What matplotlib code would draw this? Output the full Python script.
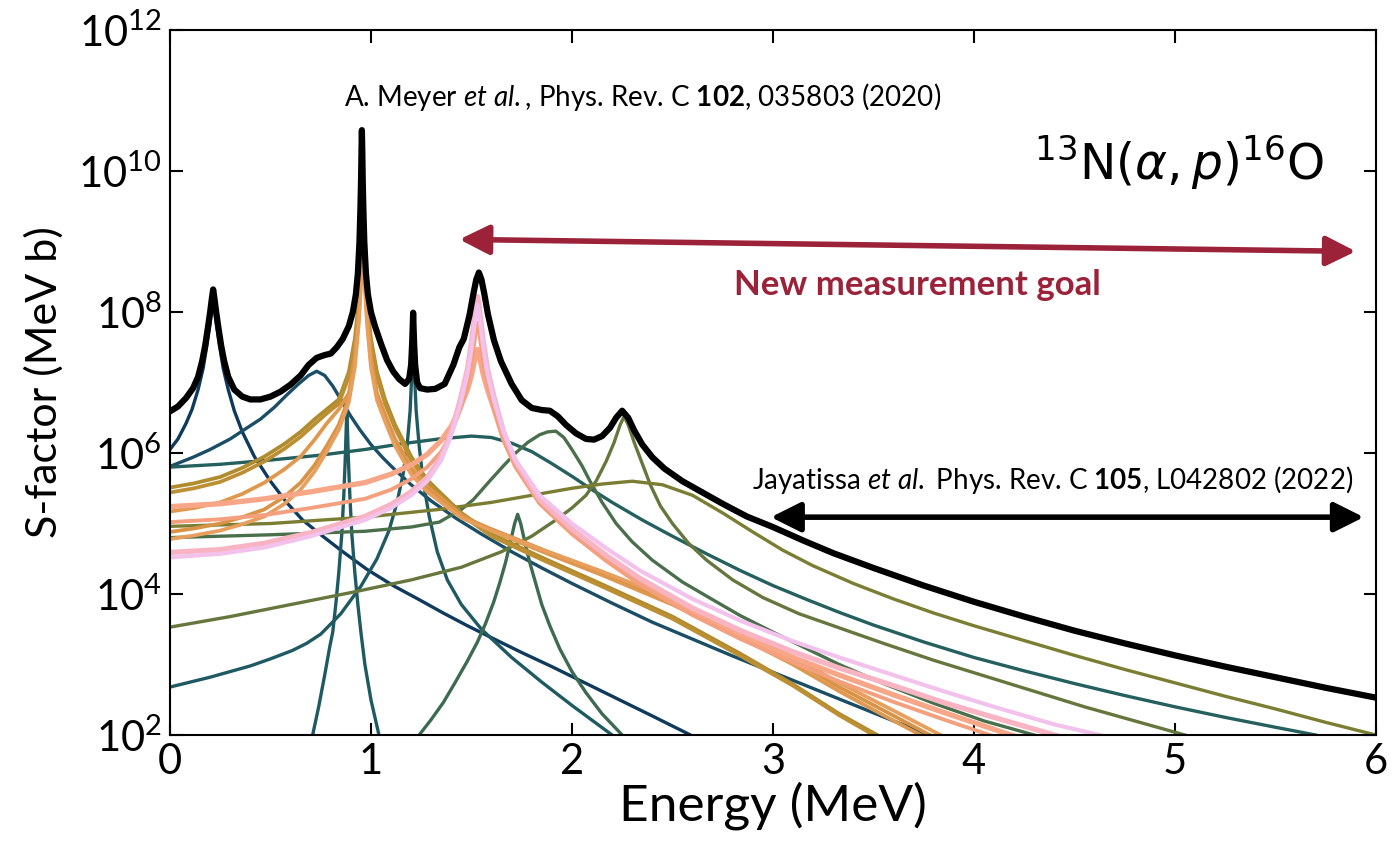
import numpy as np
import matplotlib.pyplot as plt

# Values: energies in MeV, log10 of S-factor (MeV b)
total_E = [0, 0.04, 0.08, 0.115, 0.14, 0.16, 0.175, 0.19, 0.2, 0.208, 0.215, 0.222, 0.23, 0.24, 0.255,
           0.27, 0.29, 0.32, 0.36, 0.4, 0.45, 0.5, 0.55, 0.6, 0.65, 0.69, 0.73, 0.77, 0.8, 0.83, 0.86,
           0.89, 0.91, 0.925, 0.935, 0.943, 0.948, 0.951, 0.953, 0.955, 0.957, 0.959, 0.962, 0.967,
           0.975, 0.985, 1.0, 1.02, 1.05, 1.08, 1.11, 1.14, 1.17, 1.19, 1.2, 1.205, 1.208, 1.21, 1.212,
           1.215, 1.22, 1.23, 1.245, 1.28, 1.32, 1.367, 1.41, 1.44, 1.462, 1.49, 1.51, 1.524, 1.537,
           1.55, 1.564, 1.582, 1.612, 1.647, 1.7, 1.75, 1.8, 1.85, 1.89, 1.93, 1.97, 2.02, 2.07, 2.11,
           2.15, 2.19, 2.22, 2.25, 2.28, 2.31, 2.35, 2.4, 2.46, 2.55, 2.65, 2.75, 2.87, 3.0, 3.15, 3.3,
           3.5, 3.75, 4.0, 4.25, 4.5, 4.75, 5.0, 5.25, 5.5, 5.75, 6.0]
total_S = [6.59, 6.66, 6.78, 6.92, 7.08, 7.3, 7.52, 7.8, 8.0, 8.18, 8.32, 8.18, 8.0, 7.8, 7.52,
           7.3, 7.08, 6.9, 6.8, 6.76, 6.76, 6.8, 6.87, 6.97, 7.1, 7.25, 7.35, 7.39, 7.41, 7.5, 7.62,
           7.8, 8.0, 8.25, 8.55, 9.0, 9.5, 9.9, 10.28, 10.58, 10.28, 9.9, 9.5, 9.0,
           8.55, 8.25, 8.0, 7.8, 7.55, 7.32, 7.16, 7.05, 6.98, 7.05, 7.25, 7.55, 7.8, 7.99, 7.8,
           7.55, 7.25, 7.0, 6.92, 6.9, 6.91, 6.98, 7.25, 7.5, 7.62, 7.95, 8.26, 8.46, 8.56,
           8.46, 8.26, 7.97, 7.6, 7.3, 6.98, 6.75, 6.64, 6.61, 6.6, 6.52, 6.4, 6.28, 6.2, 6.19,
           6.24, 6.36, 6.5, 6.6, 6.5, 6.32, 6.12, 5.94, 5.78, 5.6, 5.44, 5.28, 5.1, 4.95, 4.76, 4.58,
           4.37, 4.12, 3.89, 3.68, 3.48, 3.3, 3.13, 2.97, 2.82, 2.67, 2.53]

r022_E = [0, 0.04, 0.08, 0.11, 0.14, 0.165, 0.185, 0.2, 0.21, 0.215, 0.22, 0.23, 0.245, 0.265, 0.29,
          0.32, 0.36, 0.42, 0.5, 0.58, 0.66, 0.76, 0.86, 0.98, 1.11, 1.24, 1.36, 1.48, 1.6, 1.75, 1.9,
          2.05, 2.2, 2.4, 2.59]
r022_S = [6.05, 6.2, 6.42, 6.62, 6.9, 7.2, 7.55, 7.85, 8.1, 8.2, 8.1, 7.85, 7.55, 7.2, 6.9,
          6.6, 6.3, 5.95, 5.6, 5.3, 5.05, 4.82, 4.6, 4.35, 4.12, 3.92, 3.73, 3.55, 3.38, 3.17, 2.97,
          2.76, 2.55, 2.27, 2.0]

r073_E = [0, 0.115, 0.2, 0.3, 0.38, 0.45, 0.52, 0.58, 0.64, 0.69, 0.73, 0.77, 0.81, 0.85, 0.9, 0.945,
          1.0, 1.06, 1.12, 1.2, 1.3, 1.42, 1.55, 1.7, 1.85, 2.0, 2.2, 2.4, 2.6, 2.8, 3.0, 3.2, 3.4,
          3.6, 3.78]
r073_S = [5.81, 5.94, 6.05, 6.2, 6.35, 6.48, 6.65, 6.82, 6.98, 7.1, 7.16, 7.1, 6.95, 6.76, 6.52, 6.33,
          6.12, 5.93, 5.76, 5.55, 5.32, 5.08, 4.85, 4.6, 4.37, 4.15, 3.87, 3.6, 3.36, 3.12, 2.89, 2.66, 2.43,
          2.2, 2.0]

r088_E = [0.71, 0.74, 0.77, 0.795, 0.81, 0.825, 0.84, 0.855, 0.865, 0.872, 0.877, 0.88, 0.883, 0.888,
          0.895, 0.905, 0.92, 0.935, 0.95, 0.97, 1.0, 1.04]
r088_S = [2.0, 2.4, 2.85, 3.25, 3.46, 3.85, 4.3, 4.85, 5.4, 5.9, 6.35, 6.6, 6.35, 5.9,
          5.4, 4.85, 4.3, 3.85, 3.46, 3.0, 2.5, 2.0]

r121_E = [0, 0.2, 0.4, 0.5, 0.61, 0.68, 0.75, 0.85, 0.95, 1.03, 1.09, 1.13, 1.16, 1.18, 1.195, 1.203,
          1.208, 1.21, 1.212, 1.217, 1.225, 1.24, 1.26, 1.29, 1.33, 1.38, 1.45, 1.55, 1.7, 1.85, 2.0, 2.2]
r121_S = [2.68, 2.82, 2.98, 3.08, 3.2, 3.3, 3.43, 3.72, 4.11, 4.5, 4.9, 5.3, 5.7, 6.1, 6.6, 7.1,
          7.6, 7.95, 7.6, 7.1, 6.6, 6.1, 5.6, 5.1, 4.6, 4.2, 3.85, 3.5, 3.1, 2.75, 2.42, 2.0]

r150_E = [0, 0.25, 0.5, 0.75, 0.97, 1.15, 1.34, 1.5, 1.6, 1.7, 1.8, 1.9, 2.0, 2.1, 2.2, 2.35, 2.5,
          2.67, 2.84, 3.0, 3.17, 3.33, 3.5, 3.75, 4.0, 4.25, 4.5, 4.75, 5.0, 5.25, 5.5, 5.7]
r150_S = [5.80, 5.84, 5.9, 5.97, 6.05, 6.13, 6.2, 6.24, 6.22, 6.14, 6.02, 5.85, 5.67, 5.48, 5.3, 5.05,
          4.82, 4.57, 4.33, 4.12, 3.92, 3.74, 3.56, 3.32, 3.1, 2.91, 2.73, 2.56, 2.4, 2.25, 2.11, 2.0]

r173_E = [1.24, 1.3, 1.36, 1.42, 1.48, 1.53, 1.57, 1.61, 1.64, 1.67, 1.695, 1.715, 1.73, 1.745, 1.765,
          1.79, 1.82, 1.85, 1.89, 1.94, 2.0, 2.07, 2.15, 2.25]
r173_S = [2.0, 2.22, 2.46, 2.75, 3.05, 3.32, 3.58, 3.88, 4.15, 4.45, 4.75, 5.0, 5.13, 5.0, 4.75,
          4.45, 4.15, 3.85, 3.55, 3.22, 2.9, 2.6, 2.3, 2.0]

r192_E = [0, 0.5, 0.97, 1.2, 1.34, 1.45, 1.51, 1.59, 1.66, 1.72, 1.78, 1.84, 1.88, 1.92, 1.96, 2.0,
          2.05, 2.09, 2.15, 2.22, 2.3, 2.4, 2.55, 2.7, 2.84, 3.0, 3.15, 3.33, 3.55, 3.8, 4.05, 4.3]
r192_S = [4.80, 4.84, 4.89, 4.95, 5.02, 5.2, 5.34, 5.6, 5.82, 6.0, 6.15, 6.26, 6.3, 6.31, 6.22, 6.05,
          5.82, 5.6, 5.3, 5.0, 4.74, 4.48, 4.17, 3.92, 3.69, 3.46, 3.25, 3.0, 2.73, 2.45, 2.2, 2.0]

r226_E = [0, 0.3, 0.6, 0.9, 1.2, 1.45, 1.65, 1.8, 1.92, 2.0, 2.07, 2.12, 2.17, 2.21, 2.24, 2.26, 2.28,
          2.31, 2.35, 2.39, 2.44, 2.5, 2.58, 2.67, 2.8, 2.95, 3.13, 3.33, 3.55, 3.8, 4.05, 4.3, 4.55,
          4.8, 5.05]
r226_S = [3.53, 3.68, 3.85, 4.02, 4.2, 4.38, 4.6, 4.82, 5.05, 5.22, 5.4, 5.6, 5.88, 6.15, 6.4, 6.52, 6.4,
          6.15, 5.85, 5.55, 5.25, 5.0, 4.72, 4.48, 4.2, 3.95, 3.72, 3.52, 3.3, 3.06, 2.84, 2.62, 2.4,
          2.2, 2.0]

r230_E = [0, 0.5, 0.97, 1.34, 1.6, 1.8, 2.0, 2.15, 2.3, 2.45, 2.6, 2.75, 2.9, 3.05, 3.2, 3.4, 3.6,
          3.8, 4.0, 4.25, 4.5, 4.75, 5.0, 5.25, 5.5, 5.75, 6.0]
r230_S = [4.96, 5.0, 5.09, 5.2, 5.3, 5.4, 5.5, 5.56, 5.6, 5.55, 5.4, 5.15, 4.88, 4.62, 4.4, 4.15, 3.93,
          3.73, 3.55, 3.34, 3.13, 2.93, 2.74, 2.55, 2.37, 2.18, 2.0]

# 0.96 MeV group
r096_E = [0, 0.12, 0.25, 0.36, 0.47, 0.57, 0.65, 0.72, 0.78, 0.84, 0.89, 0.92, 0.94, 0.95, 0.955,
          0.96, 0.965, 0.97, 0.98, 1.0, 1.03, 1.07, 1.12, 1.2, 1.28, 1.34, 1.45,
          1.6, 1.75, 1.88, 2.14, 2.5, 2.84, 3.1, 3.33, 3.55, 3.8, 4.05]
r096a_S = [5.51, 5.57, 5.66, 5.79, 5.95, 6.13, 6.3, 6.48, 6.62, 6.76, 7.15, 7.62, 8.16, 8.57, 8.8,
           8.9, 8.8, 8.57, 8.16, 7.62, 7.15, 6.76, 6.4, 5.95, 5.62, 5.45, 5.15,
           4.85, 4.65, 4.48, 4.15, 3.68, 3.15, 2.72, 2.3, 1.95, 1.55, 1.15]
r096b_S = [5.44, 5.5, 5.59, 5.72, 5.88, 6.06, 6.23, 6.41, 6.56, 6.7, 7.08, 7.54, 8.06, 8.47, 8.7,
           8.8, 8.7, 8.47, 8.06, 7.54, 7.08, 6.7, 6.35, 5.9, 5.58, 5.41, 5.12,
           4.82, 4.62, 4.45, 4.12, 3.65, 3.12, 2.7, 2.28, 1.92, 1.52, 1.12]
r096c_S = [5.17, 5.22, 5.3, 5.42, 5.58, 5.77, 5.95, 6.19, 6.42, 6.62, 6.85, 7.35, 8.0, 8.6, 9.0,
           9.2, 9.0, 8.6, 8.0, 7.35, 6.85, 6.55, 6.2, 5.8, 5.52, 5.38, 5.12,
           4.9, 4.72, 4.57, 4.28, 3.85, 3.38, 3.0, 2.62, 2.28, 1.9, 1.52]
r096d_S = [4.88, 4.93, 5.0, 5.09, 5.2, 5.38, 5.58, 5.83, 6.1, 6.4, 6.78, 7.3, 7.95, 8.5, 8.85,
           9.0, 8.85, 8.5, 7.95, 7.3, 6.8, 6.5, 6.15, 5.75, 5.48, 5.34, 5.1,
           4.92, 4.75, 4.6, 4.32, 3.9, 3.43, 3.06, 2.68, 2.35, 1.97, 1.6]
r096e_S = [4.78, 4.83, 4.9, 4.99, 5.1, 5.28, 5.48, 5.74, 6.02, 6.33, 6.72, 7.22, 7.85, 8.35, 8.6,
           8.7, 8.6, 8.35, 7.85, 7.22, 6.75, 6.45, 6.1, 5.7, 5.45, 5.32, 5.08,
           4.9, 4.74, 4.6, 4.33, 3.93, 3.47, 3.11, 2.74, 2.42, 2.05, 1.68]

# 1.53 MeV group
r153_E = [0, 0.25, 0.47, 0.7, 0.97, 1.1, 1.2, 1.28, 1.35, 1.4, 1.445, 1.48, 1.5, 1.515, 1.523,
          1.53, 1.537, 1.545, 1.56, 1.58, 1.615, 1.66, 1.72, 1.84, 2.0, 2.17, 2.34, 2.6, 2.84, 3.1,
          3.33, 3.6, 3.85, 4.1, 4.4, 4.7, 5.0]
r153a_S = [5.24, 5.28, 5.35, 5.45, 5.58, 5.7, 5.83, 5.98, 6.18, 6.38, 6.65, 6.9, 7.1, 7.3, 7.4,
           7.47, 7.4, 7.3, 7.1, 6.9, 6.6, 6.2, 5.82, 5.3, 4.88, 4.5, 4.17, 3.75, 3.42, 3.1,
           2.85, 2.57, 2.32, 2.08, 1.8, 1.55, 1.3]
r153b_S = [5.02, 5.06, 5.12, 5.22, 5.35, 5.48, 5.63, 5.8, 6.02, 6.28, 6.62, 6.98, 7.28, 7.58, 7.76,
           7.85, 7.76, 7.58, 7.28, 6.98, 6.6, 6.18, 5.8, 5.28, 4.85, 4.47, 4.13, 3.7, 3.36, 3.03,
           2.76, 2.47, 2.22, 1.98, 1.7, 1.45, 1.2]
r153c_S = [4.59, 4.63, 4.72, 4.87, 5.1, 5.27, 5.45, 5.65, 5.95, 6.3, 6.76, 7.19, 7.56, 7.92, 8.12,
           8.22, 8.12, 7.92, 7.56, 7.19, 6.76, 6.3, 5.88, 5.34, 4.92, 4.55, 4.22, 3.8, 3.48, 3.18,
           2.95, 2.7, 2.46, 2.25, 2.0, 1.75, 1.5]
r153d_S = [4.52, 4.57, 4.66, 4.82, 5.05, 5.22, 5.4, 5.6, 5.9, 6.25, 6.7, 7.12, 7.48, 7.82, 8.0,
           8.1, 8.0, 7.82, 7.48, 7.12, 6.72, 6.3, 5.9, 5.4, 5.0, 4.65, 4.33, 3.93, 3.62, 3.33,
           3.1, 2.85, 2.62, 2.4, 2.15, 1.95, 1.7]

meyer_E, meyer_S = 2.35, 11.05
jaya_E, jaya_S = 4.39, 5.62
goal_E, goal_S = 3.72, 8.39
reac_E, reac_S = 5.02, 10.12
red_arrow = [(1.44, 9.03), (5.9, 8.86)]
black_arrow = [(2.99, 5.09), (5.94, 5.09)]

plt.rcParams['font.family'] = ['Lato', 'DejaVu Sans']
plt.rcParams['mathtext.fontset'] = 'custom'
plt.rcParams['mathtext.rm'] = 'Lato'
plt.rcParams['mathtext.it'] = 'Lato:italic'
plt.rcParams['mathtext.bf'] = 'Lato:bold'

fig = plt.figure(figsize=(13.93, 8.46), dpi=100)
ax = fig.add_axes([0.122, 0.1312, 0.8657, 0.8333])

curves = [
    (r022_E, r022_S, '#0e3a5e', 2.4),
    (r073_E, r073_S, '#1a4d66', 2.4),
    (r088_E, r088_S, '#1f5a63', 2.4),
    (r121_E, r121_S, '#1f5a63', 2.4),
    (r150_E, r150_S, '#24605e', 2.4),
    (r173_E, r173_S, '#3d6b52', 2.4),
    (r192_E, r192_S, '#4a704b', 2.4),
    (r226_E, r226_S, '#66773d', 2.4),
    (r230_E, r230_S, '#7b7e32', 2.4),
    (r096_E, r096a_S, '#b08c2e', 2.7),
    (r096_E, r096b_S, '#bd8f33', 2.7),
    (r096_E, r096c_S, '#e0984e', 2.7),
    (r096_E, r096d_S, '#d99346', 2.7),
    (r096_E, r096e_S, '#e89f5e', 2.7),
    (r153_E, r153a_S, '#f7a688', 3.8),
    (r153_E, r153b_S, '#f4a07e', 2.8),
    (r153_E, r153c_S, '#f9b4c4', 3.8),
    (r153_E, r153d_S, '#f3c2ec', 3.0),
]
for e, s, c, lw in curves:
    ax.plot(e, 10.0 ** np.array(s), color=c, lw=lw, solid_joinstyle='round')

ax.plot(total_E, 10.0 ** np.array(total_S), color='black', lw=4.5, solid_joinstyle='round')

ax.set_yscale('log')
ax.set_xlim(0, 6)
ax.set_ylim(1e2, 1e12)
ax.set_yticks([10.0 ** k for k in range(2, 13, 2)])
ax.set_yticklabels([r'$\mathregular{10^{%d}}$' % k for k in range(2, 13, 2)])
ax.minorticks_off()
ax.tick_params(which='both', direction='in', top=True, right=True, length=9, width=1.5,
               labelsize=30, pad=6)
for sp in ax.spines.values():
    sp.set_linewidth(1.5)

ax.set_xlabel('Energy (MeV)', fontsize=37, labelpad=0)
ax.set_ylabel('S-factor (MeV b)', fontsize=31, labelpad=10)

ax.text(meyer_E, 10 ** meyer_S, r'A. Meyer $\mathit{et\ al.}$, Phys. Rev. C $\mathbf{102}$, 035803 (2020)',
        ha='center', va='center', fontsize=20)
ax.text(jaya_E, 10 ** jaya_S, r'Jayatissa $\mathit{et\ al.}$ Phys. Rev. C $\mathbf{105}$, L042802 (2022)',
        ha='center', va='center', fontsize=20)
ax.text(goal_E, 10 ** goal_S, 'New measurement goal', ha='center', va='center', fontsize=25,
        fontweight='bold', color='#9b2239')
ax.text(reac_E, 10 ** reac_S, r'$^{13}\mathrm{N}(\alpha,p)^{16}\mathrm{O}$', ha='center', va='center',
        fontsize=35, family='DejaVu Sans', math_fontfamily='dejavusans')

(x0, y0), (x1, y1) = red_arrow
ax.annotate('', xy=(x0, 10 ** y0), xytext=(x1, 10 ** y1),
            arrowprops=dict(arrowstyle='<|-|>', color='#9b2239', lw=4, mutation_scale=45,
                            shrinkA=0, shrinkB=0))
(x0, y0), (x1, y1) = black_arrow
ax.annotate('', xy=(x0, 10 ** y0), xytext=(x1, 10 ** y1),
            arrowprops=dict(arrowstyle='<|-|>', color='black', lw=4, mutation_scale=45,
                            shrinkA=0, shrinkB=0))

fig.savefig('out.png', dpi=100)
